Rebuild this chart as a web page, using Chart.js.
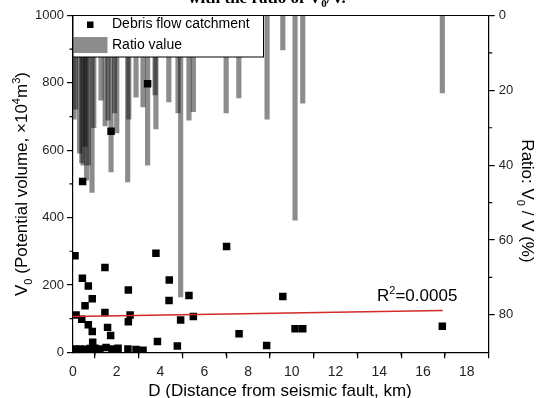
<!DOCTYPE html>
<html>
<head>
<meta charset="utf-8">
<script src="https://cdn.jsdelivr.net/npm/chart.js@4.4.1/dist/chart.umd.min.js"></script>
<style>
  body { margin: 0; background: #fff; }
  canvas { display: block; }
</style>
</head>
<body>
<canvas id="c" width="537" height="398"></canvas>
<script>
// catchments: distance from fault (km) and potential volume (x10^4 m3)
const catchD = [0.09, 3.79, 7.02, 1.46, 0.43, 0.70, 4.40, 2.53, 0.88, 0.55, 4.39, 5.30, 9.59,
  0.14, 1.46, 2.61, 2.53, 0.40, 0.70, 0.88, 1.58, 1.72, 4.92, 5.50, 7.59, 8.85, 3.86, 4.77,
  0.90, 10.15, 10.50, 16.88, 3.41, 1.74, 0.44,
  0.09, 0.32, 0.55, 0.78, 1.00, 1.23, 1.51, 1.78, 2.06, 2.51, 2.88, 3.20]
const catchV = [287, 294, 314, 252, 220, 197, 215, 185, 159, 138, 154, 169, 166,
  111, 118, 111, 91, 98, 82, 62, 74, 50, 96, 106, 55, 20, 32, 19,
  30, 70, 70, 77, 797, 656, 507,
  10, 10, 9, 11, 12, 10, 14, 10, 12, 10, 8, 6]
// ratio value V0/V (%) bars
const ratioD = [0.05, 0.12, 0.30, 0.40, 0.46, 0.55, 0.62, 0.70, 0.87, 0.95, 1.28, 1.47, 1.60,
  1.74, 1.90, 2.00, 2.50, 2.55, 2.88, 3.20, 3.41, 3.75, 3.79, 4.38, 4.80, 4.92, 5.30, 5.50,
  7.00, 7.58, 8.87, 9.59, 10.15, 10.50, 16.88]
const ratioPct = [27.7, 25.0, 36.8, 39.4, 40.0, 35.0, 44.0, 40.0, 47.3, 30.0, 22.6, 29.5, 28.0,
  41.8, 26.0, 31.4, 44.5, 27.7, 21.8, 24.4, 40.0, 21.2, 30.3, 23.1, 26.0, 75.2, 28.0, 25.7,
  26.0, 22.0, 27.7, 9.2, 54.7, 23.4, 20.7]
// linear fit
const fitD = [0, 16.9]
const fitV = [106, 124]

const xTicks = [0, 2, 4, 6, 8, 10, 12, 14, 16, 18]
const xMinor = [1, 3, 5, 7, 9, 11, 13, 15, 17]
const vTicks = [0, 200, 400, 600, 800, 1000]
const vMinor = [100, 300, 500, 700, 900]
const rTicks = [0, 20, 40, 60, 80]
const rMinor = [10, 30, 50, 70]

const sans = "'Liberation Sans', Arial, sans-serif"
const barColor = "rgba(0,0,0,0.45)"

//draws text with sub (1) and superscript (2) parts
function rich(ctx, parts, x, y, size, center, bold, family) {
  let f = family || sans
  let fontOf = p => (bold ? "bold " : "") + (p[1] ? size * 0.65 : size) + "px " + f
  let w = 0
  parts.forEach(p => { ctx.font = fontOf(p); w += ctx.measureText(p[0]).width })
  let cx = center ? x - w / 2 : x
  parts.forEach(p => {
    ctx.font = fontOf(p)
    let dy = p[1] == 1 ? size * 0.28 : p[1] == 2 ? -size * 0.4 : 0
    ctx.fillText(p[0], cx, y + dy)
    cx += ctx.measureText(p[0]).width
  })
}

const decor = {
  id: "decor",
  beforeDraw(chart) {
    let ctx = chart.ctx
    ctx.save()
    ctx.fillStyle = "#000"
    ctx.textBaseline = "alphabetic"
    rich(ctx, [["with the ratio of V"], ["0", 1], ["/V."]], 267, 2.5, 17, true, true, "'Liberation Serif', 'Times New Roman', serif")
    ctx.restore()
  },
  afterDatasetsDraw(chart) {
    let ctx = chart.ctx
    let a = chart.chartArea
    let sx = chart.scales.x, sy = chart.scales.y, sr = chart.scales.y2
    ctx.save()
    ctx.strokeStyle = "#000"
    ctx.lineWidth = 1.2
    // top frame
    ctx.beginPath()
    ctx.moveTo(a.left, a.top)
    ctx.lineTo(a.right, a.top)
    ctx.stroke()
    // minor ticks
    ctx.beginPath()
    xMinor.forEach(v => { let p = sx.getPixelForValue(v); ctx.moveTo(p, a.bottom); ctx.lineTo(p, a.bottom + 3.5) })
    vMinor.forEach(v => { let p = sy.getPixelForValue(v); ctx.moveTo(a.left, p); ctx.lineTo(a.left - 3.5, p) })
    rMinor.forEach(v => { let p = sr.getPixelForValue(v); ctx.moveTo(a.right, p); ctx.lineTo(a.right + 3.5, p) })
    ctx.stroke()

    // legend box
    ctx.fillStyle = "#fff"
    ctx.fillRect(a.left, a.top, 190.5, 41.5)
    ctx.lineWidth = 1
    ctx.strokeRect(a.left, a.top, 190.5, 41.5)
    ctx.fillStyle = "#000"
    ctx.fillRect(87, 21.5, 6.5, 6.5)
    ctx.fillStyle = barColor
    ctx.fillRect(a.left + 0.5, 37, 34, 16)
    ctx.fillStyle = "#000"
    ctx.font = "14px " + sans
    ctx.textBaseline = "middle"
    ctx.fillText("Debris flow catchment", 112, 24.5)
    ctx.fillText("Ratio value", 112, 45.5)

    // fit label
    ctx.textBaseline = "alphabetic"
    rich(ctx, [["R"], ["2", 2], ["=0.0005"]], 377, 301, 17, false)

    // axis titles
    rich(ctx, [["D (Distance from seismic fault, km)"]], 280, 396, 17, true)
    ctx.save()
    ctx.translate(21, 184)
    ctx.rotate(-Math.PI / 2)
    rich(ctx, [["V"], ["0", 1], [" (Potential volume, \u00d710"], ["4", 2], ["m"], ["3", 2], [")"]], 0, 6, 17, true)
    ctx.restore()
    ctx.save()
    ctx.translate(528, 201)
    ctx.rotate(Math.PI / 2)
    rich(ctx, [["Ratio: V"], ["0", 1], [" / V (%)"]], 0, 6, 17, true)
    ctx.restore()
    ctx.restore()
  }
}

let axisStyle = {
  border: { display: true, color: "#000", width: 1.2 },
  grid: { drawOnChartArea: false, drawTicks: true, tickLength: 6, color: "#000", lineWidth: 1.2 },
  ticks: { color: "#1f1f1f", font: { size: 13, family: sans }, padding: 3, callback: v => String(v) }
}

let chart = new Chart(document.getElementById("c"), {
  type: "bar",
  data: {
    datasets: [
      {
        type: "line",
        data: fitD.map((d, i) => ({ x: d, y: fitV[i] })),
        xAxisID: "x",
        yAxisID: "y",
        borderColor: "#d42a2a",
        borderWidth: 1.5,
        pointRadius: 0,
        order: 1
      },
      {
        type: "scatter",
        data: catchD.map((d, i) => ({ x: d, y: catchV[i] })),
        xAxisID: "x",
        yAxisID: "y",
        pointStyle: "rect",
        pointRadius: 5.3,
        backgroundColor: "#000",
        borderWidth: 0,
        order: 2
      },
      {
        type: "bar",
        data: ratioD.map((d, i) => ({ x: d, y: ratioPct[i] })),
        xAxisID: "x",
        yAxisID: "y2",
        backgroundColor: barColor,
        barThickness: 4.5,
        grouped: false,
        order: 3
      }
    ]
  },
  options: {
    responsive: false,
    animation: false,
    layout: { padding: { top: 15.5, left: 0, right: 0, bottom: 0 } },
    plugins: { legend: { display: false }, tooltip: { enabled: false } },
    scales: {
      x: {
        type: "linear",
        position: "bottom",
        min: 0,
        max: 19,
        offset: false,
        border: axisStyle.border,
        grid: axisStyle.grid,
        ticks: Object.assign({}, axisStyle.ticks, { padding: 5, maxRotation: 0, font: { size: 14, family: sans } }),
        afterBuildTicks: s => { s.ticks = xTicks.map(v => ({ value: v })) },
        afterFit: s => { s.height = 45.7 }
      },
      y: {
        type: "linear",
        position: "left",
        min: 0,
        max: 1000,
        border: axisStyle.border,
        grid: axisStyle.grid,
        ticks: axisStyle.ticks,
        afterBuildTicks: s => { s.ticks = vTicks.map(v => ({ value: v })) },
        afterFit: s => { s.width = 73 }
      },
      y2: {
        type: "linear",
        position: "right",
        min: 0,
        max: 90,
        reverse: true,
        border: axisStyle.border,
        grid: axisStyle.grid,
        ticks: Object.assign({}, axisStyle.ticks, { padding: 4 }),
        afterBuildTicks: s => { s.ticks = rTicks.map(v => ({ value: v })) },
        afterFit: s => { s.width = 48.3 }
      }
    }
  },
  plugins: [decor]
})
</script>
</body>
</html>
